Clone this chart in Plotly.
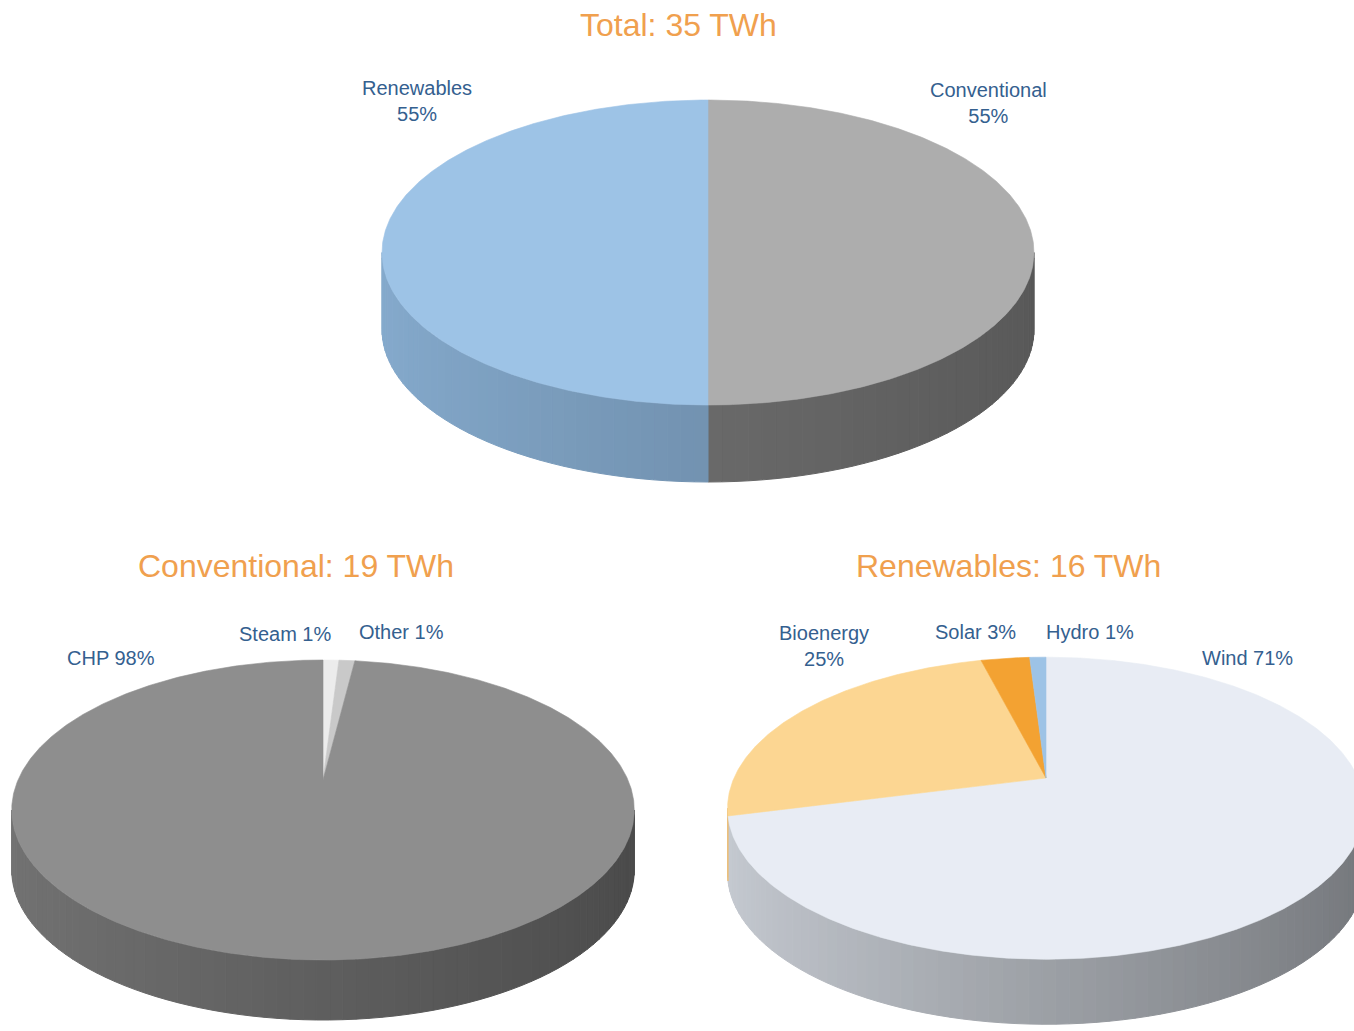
import numpy as np
import plotly.graph_objects as go

# ---------------- data ----------------
total_cats = ["Conventional", "Renewables"]
total_share = [50, 50]
total_labels = ["Conventional<br>55%", "Renewables<br>55%"]

conv_cats = ["Steam", "Other", "CHP"]
conv_share = [1, 1, 98]
conv_labels = ["Steam 1%", "Other 1%", "CHP 98%"]

ren_cats = ["Wind", "Bioenergy", "Solar", "Hydro"]
ren_share = [71, 25, 3, 1]
ren_labels = ["Wind 71%", "Bioenergy<br>25%", "Solar 3%", "Hydro 1%"]

titles = ["Total: 35 TWh", "Conventional: 19 TWh", "Renewables: 16 TWh"]

# ---------------- style ----------------
W, H = 1354, 1031
TITLE_COLOR = "#F0A04E"
LABEL_COLOR = "#34608F"
FONT = "Liberation Sans, Arial, sans-serif"

pies = [
    dict(share=total_share, labels=total_labels, title=titles[0],
         cx=708, y0=222, A=319.4, B=146.4, p=0.2, depth=77,
         top=["#ADADAD", "#9DC3E6"], side=["#666666", "#6F8EAB"], shade=(1.2, 0.86),
         label_pos=[(988, 103), (417, 101)], title_pos=(678, 25)),
    dict(share=conv_share, labels=conv_labels, title=titles[1],
         cx=323, y0=780, A=305, B=144, p=0.2, depth=60,
         top=["#ECECEC", "#C9C9C9", "#8E8E8E"], side=["#9A9A9A", "#808080", "#5C5C5C"], shade=(1.25, 0.8),
         label_pos=[(285, 634), (401, 632), (111, 658)], title_pos=(296, 566)),
    dict(share=ren_share, labels=ren_labels, title=titles[2],
         cx=1046, y0=778, A=312, B=145, p=0.2, depth=65,
         top=["#E8ECF4", "#FCD692", "#F3A232", "#9DC3E6"],
         side=["#A8ACB2", "#C9A46A", "#B9781F", "#7A99B7"], shade=(1.18, 0.68),
         label_pos=[(1247, 658), (824, 646), (975, 632), (1090, 632)], title_pos=(1008, 566)),
]


def proj(pie, th_deg, r=1.0):
    th = np.radians(th_deg)
    u = r * np.sin(th)
    v = r * np.cos(th)
    w = 1 + pie["p"] * v
    return pie["cx"] + pie["A"] * u / w, pie["y0"] - pie["B"] * v / w


def shade(hex_color, f):
    h = hex_color.lstrip("#")
    rgb = [int(h[i:i + 2], 16) for i in (0, 2, 4)]
    rgb = [max(0, min(255, int(round(c * f)))) for c in rgb]
    return "rgb(%d,%d,%d)" % tuple(rgb)


fig = go.Figure()
side_traces = []
top_traces = []

for pie in pies:
    vals = np.array(pie["share"], dtype=float)
    ang = np.concatenate([[0], np.cumsum(vals) / vals.sum() * 360.0])
    ths = np.degrees(np.arccos(-pie["p"]))
    vis_a, vis_b = ths, 360 - ths
    fl, fr = pie["shade"]
    for i in range(len(vals)):
        a, b = ang[i], ang[i + 1]
        # side wall (front, visible part)
        sa, sb = max(a, vis_a), min(b, vis_b)
        if sb > sa:
            n = max(1, int(np.ceil((sb - sa) / 2.0)))
            edges = np.linspace(sa, sb, n + 1)
            for k in range(n):
                t0, t1 = edges[k], edges[k + 1]
                tt = np.linspace(t0, t1, 4)
                xs, ys = proj(pie, tt)
                px = np.concatenate([xs, xs[::-1], xs[:1]])
                py = np.concatenate([ys, ys[::-1] + pie["depth"], ys[:1]])
                mid = np.radians((t0 + t1) / 2)
                tpos = (np.sin(mid) + 1) / 2
                col = shade(pie["side"][i], fl + (fr - fl) * tpos)
                side_traces.append(go.Scatter(x=px, y=py, mode="lines", fill="toself",
                                              fillcolor=col, line=dict(color=col, width=1),
                                              hoverinfo="skip", showlegend=False))
        # top face
        n = max(2, int(np.ceil((b - a) / 0.5)) + 1)
        tt = np.linspace(a, b, n)
        xs, ys = proj(pie, tt)
        cx0, cy0 = proj(pie, 0.0, r=0.0)
        px = np.concatenate([[cx0], xs, [cx0]])
        py = np.concatenate([[cy0], ys, [cy0]])
        top_traces.append(go.Scatter(x=px, y=py, mode="lines", fill="toself",
                                     fillcolor=pie["top"][i], line=dict(color=pie["top"][i], width=0.6),
                                     hoverinfo="skip", showlegend=False))

for t in side_traces + top_traces:
    fig.add_trace(t)

annotations = []
for pie in pies:
    tx, ty = pie["title_pos"]
    annotations.append(dict(x=tx, y=ty, xref="x", yref="y", text=pie["title"], showarrow=False,
                            font=dict(family=FONT, size=32, color=TITLE_COLOR),
                            xanchor="center", yanchor="middle"))
    for lab, (lx, ly) in zip(pie["labels"], pie["label_pos"]):
        annotations.append(dict(x=lx, y=ly, xref="x", yref="y", text=lab, showarrow=False,
                                font=dict(family=FONT, size=20, color=LABEL_COLOR),
                                xanchor="center", yanchor="middle", align="center"))

fig.update_layout(
    width=W, height=H,
    margin=dict(l=0, r=0, t=0, b=0),
    paper_bgcolor="white", plot_bgcolor="white",
    showlegend=False,
    xaxis=dict(range=[0, W], visible=False, fixedrange=True),
    yaxis=dict(range=[H, 0], visible=False, fixedrange=True),
    annotations=annotations,
)

fig.write_html("out.html")
